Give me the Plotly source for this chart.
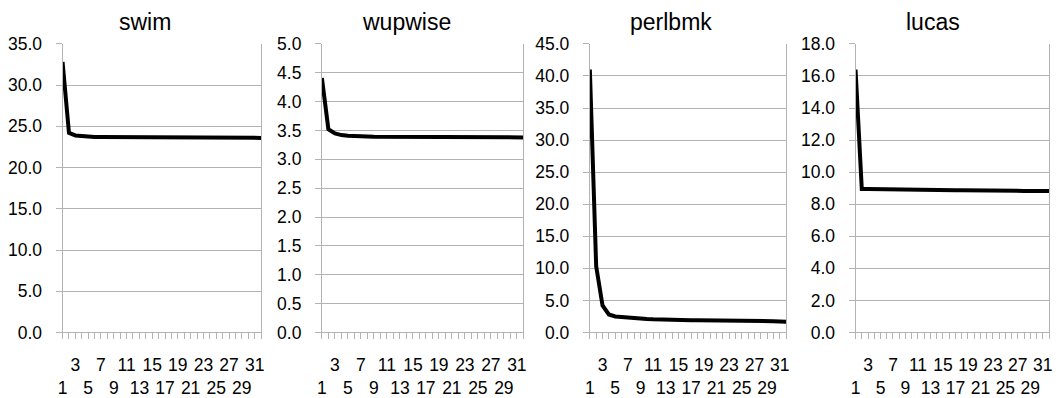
import plotly.graph_objects as go

# Iteration index (1..32) shared by every panel
iterations = list(range(1, 33))

titles = ["swim", "wupwise", "perlbmk", "lucas"]

swim = [32.8, 24.2, 23.9, 23.8, 23.75, 23.72, 23.7, 23.7, 23.68, 23.67, 23.66,
        23.65, 23.65, 23.64, 23.64, 23.63, 23.63, 23.63, 23.62, 23.62, 23.62,
        23.62, 23.61, 23.61, 23.61, 23.61, 23.6, 23.6, 23.6, 23.6, 23.6, 23.6]
wupwise = [4.41, 3.52, 3.45, 3.42, 3.41, 3.40, 3.40, 3.395, 3.39, 3.39, 3.39,
           3.388, 3.386, 3.385, 3.384, 3.383, 3.382, 3.381, 3.38, 3.38, 3.38,
           3.38, 3.38, 3.38, 3.38, 3.38, 3.38, 3.38, 3.38, 3.38, 3.38, 3.38]
perlbmk = [41.0, 10.3, 4.2, 2.8, 2.5, 2.4, 2.3, 2.2, 2.15, 2.1, 2.05, 2.0,
           2.0, 1.95, 1.95, 1.9, 1.9, 1.9, 1.9, 1.85, 1.85, 1.85, 1.8, 1.8,
           1.8, 1.8, 1.8, 1.8, 1.8, 1.75, 1.7, 1.65]
lucas = [16.4, 8.95, 8.95, 8.94, 8.93, 8.93, 8.92, 8.92, 8.91, 8.91, 8.9,
         8.9, 8.89, 8.89, 8.88, 8.88, 8.87, 8.87, 8.86, 8.86, 8.86, 8.85,
         8.85, 8.85, 8.84, 8.84, 8.84, 8.83, 8.83, 8.83, 8.82, 8.82]

series = [swim, wupwise, perlbmk, lucas]
y_max = [35, 5, 45, 18]
y_step = [5, 0.5, 5, 2]

# Odd iterations are labelled, alternating between two rows
x_tickvals = [i for i in iterations if i % 2 == 1]
x_ticktext = [str(i) if i % 4 == 3 else "<br>" + str(i) for i in x_tickvals]

W, H = 1061, 398
FONT = "Liberation Sans, Arial, sans-serif"
GRID = "#b3b3b3"
TICK_SIZE = 17.5
TITLE_SIZE = 23

# Plot-area pixel boxes (left, right) for each panel; shared top/bottom
panel_x = [(58, 258), (319.3, 522.3), (589.3, 787), (857, 1052)]
title_cx = [141, 405, 671, 935]
top_px, bottom_px = 35.7, 339.5

fig = go.Figure()
layout = dict(
    width=W, height=H,
    margin=dict(l=0, r=0, t=0, b=0),
    paper_bgcolor="white", plot_bgcolor="white",
    showlegend=False,
    font=dict(family=FONT, size=TICK_SIZE, color="#000000"),
    annotations=[],
)

for k, (name, vals) in enumerate(zip(titles, series)):
    n = k + 1
    xa = "x" if n == 1 else f"x{n}"
    ya = "y" if n == 1 else f"y{n}"
    fig.add_trace(go.Scatter(
        x=iterations, y=vals, mode="lines",
        line=dict(color="#000000", width=4),
        xaxis=xa, yaxis=ya, hoverinfo="skip",
    ))
    x0, x1 = panel_x[k]
    layout["xaxis" if n == 1 else f"xaxis{n}"] = dict(
        domain=[x0 / W, x1 / W], anchor=ya,
        range=[1, 32], showgrid=False, zeroline=False,
        showline=True, linecolor=GRID, linewidth=1,
        tickmode="array", tickvals=x_tickvals, ticktext=x_ticktext,
        ticks="outside", ticklen=6, tickcolor=GRID, tickwidth=1,
        minor=dict(tickmode="array", tickvals=iterations, ticks="outside",
                   ticklen=6, tickcolor=GRID, tickwidth=1, showgrid=False),
        tickangle=0, ticklabelstandoff=11,
        tickfont=dict(family=FONT, size=TICK_SIZE, color="#000000"),
        fixedrange=True,
    )
    layout["yaxis" if n == 1 else f"yaxis{n}"] = dict(
        domain=[(H - bottom_px) / H, (H - top_px) / H], anchor=xa,
        range=[0, y_max[k]], dtick=y_step[k], tick0=0, tickformat=".1f",
        showgrid=True, gridcolor=GRID, gridwidth=1, zeroline=False,
        showline=True, linecolor=GRID, linewidth=1, mirror=True,
        ticks="outside", ticklen=6, tickcolor=GRID, tickwidth=1,
        ticklabelstandoff=10,
        tickfont=dict(family=FONT, size=TICK_SIZE, color="#000000"),
        fixedrange=True,
    )
    layout["annotations"].append(dict(
        text=name, xref="paper", yref="paper",
        x=title_cx[k] / W, y=(H - 13) / H,
        xanchor="center", yanchor="middle", showarrow=False,
        font=dict(family=FONT, size=TITLE_SIZE, color="#000000"),
    ))

fig.update_layout(**layout)
fig.write_html("out.html", config={"displayModeBar": False})
